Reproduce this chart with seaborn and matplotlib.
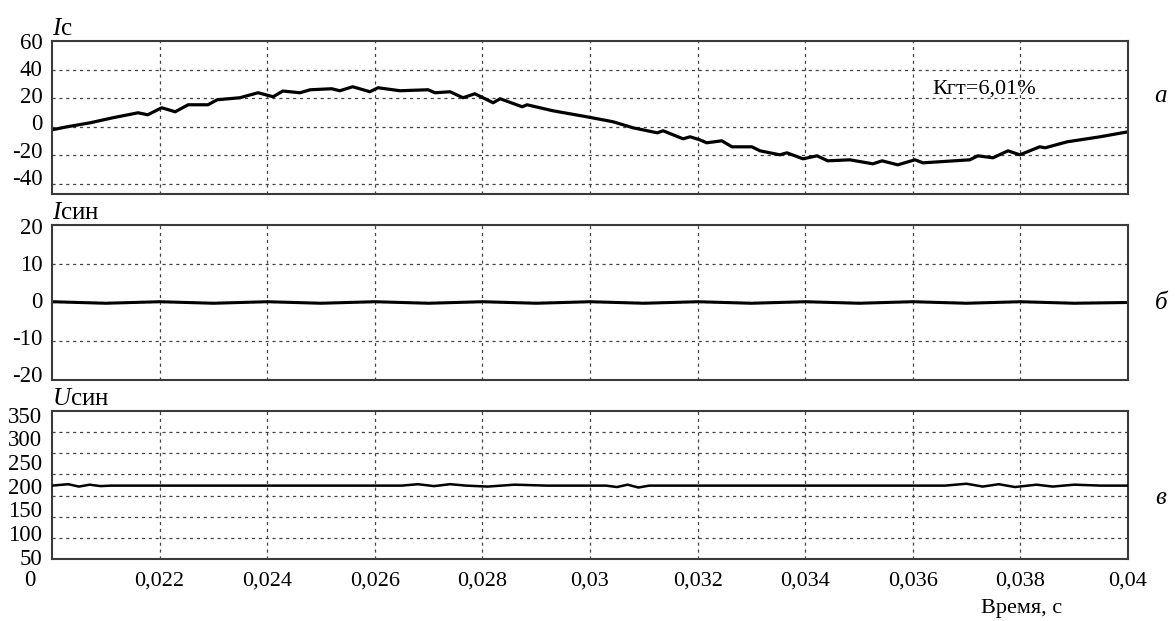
import matplotlib
matplotlib.use('Agg')
import matplotlib.pyplot as plt
import matplotlib.transforms as mtransforms
from matplotlib.ticker import FuncFormatter
import seaborn as sns

# phase current Ic, A
t_ic = [0.02000, 0.02028, 0.02071, 0.02113, 0.02160, 0.02178, 0.02204, 0.02229, 0.02253, 0.02290,
        0.02307, 0.02349, 0.02383, 0.02411, 0.02429, 0.02461, 0.02480, 0.02520, 0.02535, 0.02559,
        0.02591, 0.02606, 0.02647, 0.02699, 0.02712, 0.02740, 0.02764, 0.02786, 0.02820, 0.02833,
        0.02874, 0.02883, 0.02931, 0.02994, 0.03043, 0.03080, 0.03125, 0.03136, 0.03173, 0.03186,
        0.03204, 0.03217, 0.03245, 0.03264, 0.03301, 0.03316, 0.03353, 0.03366, 0.03396, 0.03422,
        0.03442, 0.03483, 0.03526, 0.03543, 0.03572, 0.03604, 0.03619, 0.03706, 0.03721, 0.03749,
        0.03777, 0.03799, 0.03836, 0.03846, 0.03887, 0.03948, 0.04000]
ic = [-2.1, 0.0, 2.8, 6.3, 9.8, 8.4, 13.3, 10.5, 15.4, 15.4,
      18.9, 20.3, 23.8, 21.0, 25.0, 23.8, 25.9, 26.6, 25.2, 28.0,
      24.5, 27.3, 25.2, 25.9, 23.8, 24.5, 20.3, 23.1, 16.8, 19.6,
      14.0, 15.4, 11.2, 7.0, 3.5, -0.7, -4.2, -2.8, -8.4, -7.0,
      -9.1, -11.2, -9.8, -14.0, -14.0, -16.8, -19.6, -18.2, -22.4, -20.3,
      -23.8, -23.1, -25.9, -23.8, -26.6, -23.1, -25.2, -23.1, -20.3, -21.7,
      -16.8, -19.6, -14.0, -14.7, -10.5, -7.0, -3.5]

# synchronous current, A
t_isin = [0.020, 0.021, 0.022, 0.023, 0.024, 0.025, 0.026, 0.027, 0.028, 0.029, 0.030,
          0.031, 0.032, 0.033, 0.034, 0.035, 0.036, 0.037, 0.038, 0.039, 0.040]
isin = [0.2, -0.2, 0.2, -0.2, 0.2, -0.2, 0.2, -0.2, 0.2, -0.2, 0.2,
        -0.2, 0.2, -0.2, 0.2, -0.2, 0.2, -0.2, 0.2, -0.2, 0.0]

# synchronous voltage, V
t_usin = [0.0200, 0.0203, 0.0205, 0.0207, 0.0209, 0.0211, 0.0265, 0.0268, 0.0271, 0.0274,
          0.0277, 0.0281, 0.0286, 0.0292, 0.0303, 0.0305, 0.0307, 0.0309, 0.0311, 0.0366,
          0.0370, 0.0373, 0.0376, 0.0379, 0.0383, 0.0386, 0.0390, 0.0395, 0.0400]
usin = [200, 203, 198, 202, 199, 200, 200, 203, 199, 203,
        200, 198, 202, 200, 200, 197, 202, 196, 200, 200,
        204, 198, 203, 197, 202, 198, 202, 200, 200]

x_ticks = [0.022, 0.024, 0.026, 0.028, 0.030, 0.032, 0.034, 0.036, 0.038, 0.040]

plt.rcParams['font.family'] = ['Liberation Serif', 'DejaVu Serif']
plt.rcParams['mathtext.fontset'] = 'custom'
plt.rcParams['mathtext.it'] = 'Liberation Serif:italic'
plt.rcParams['mathtext.rm'] = 'Liberation Serif'
plt.rcParams['axes.unicode_minus'] = False

fig = plt.figure(figsize=(11.75, 6.21), dpi=100)

# each panel: rect, grid ylim, grid ticks, label ylim, label ticks, title, letter
panels = [
    ([0.04426, 0.6876, 0.9157, 0.2464], (-47, 60), [-40, -20, 0, 20, 40],
     (-52.7, 59.8), [60, 40, 20, 0, -20, -40], r'$I$с', 'a', 0.8454),
    ([0.04426, 0.3881, 0.9157, 0.2496], (-20, 20), [-10, 0, 10],
     (-21.6, 20.3), [20, 10, 0, -10, -20], r'$I$син', 'б', 0.512),
    ([0.04426, 0.0998, 0.9157, 0.2383], (0, 350), [50, 100, 150, 200, 250, 300],
     (44.9, 357.6), [350, 300, 250, 200, 150, 100, 50], r'$U$син', 'в', 0.198),
]

comma = FuncFormatter(lambda v, p: ('%g' % v).replace('.', ','))
axes = []
for i, (rect, glim, gticks, llim, lticks, title, letter, ly) in enumerate(panels):
    ax = fig.add_axes(rect)
    ax.set_xlim(0.020, 0.040)
    ax.set_ylim(*glim)
    ax.set_yticks(gticks)
    ax.set_xticks(x_ticks)
    ax.grid(True, color='#444444', linestyle=(0, (2.5, 3)), linewidth=0.9)
    ax.tick_params(axis='y', length=0, labelleft=False)
    ax.tick_params(axis='x', length=0, labelsize=16, pad=9, labelbottom=(i == 2))
    ax.xaxis.set_major_formatter(comma)
    for s in ax.spines.values():
        s.set_color('#3a3a3a')
        s.set_linewidth(1.5)
    # labels on a slightly different scale, as in the source oscillogram
    lab = ax.twinx()
    lab.set_ylim(*llim)
    lab.set_yticks(lticks)
    lab.yaxis.set_ticks_position('left')
    lab.tick_params(axis='y', length=0, labelsize=16.5, pad=7)
    for s in lab.spines.values():
        s.set_visible(False)
    ax.annotate(title, xy=(0, 1), xycoords='axes fraction', xytext=(0, 4),
                textcoords='offset points', ha='left', va='baseline', fontsize=18)
    fig.text(0.988, ly, letter, ha='center', va='center', fontsize=18, style='italic')
    axes.append((ax, lab))

ax1 = axes[0][0]
sns.lineplot(x=t_ic, y=ic, ax=ax1, color='black', linewidth=2.3, estimator=None)
ax1.text(0.03636, 26.6, 'Кгт=6,01%', ha='left', va='center', fontsize=16)

ax2 = axes[1][0]
sns.lineplot(x=t_isin, y=isin, ax=ax2, color='black', linewidth=2.2, estimator=None)

ax3, lab3 = axes[2]
sns.lineplot(x=t_usin, y=usin, ax=lab3, color='black', linewidth=1.8, estimator=None)
lab3.set_xlim(0.020, 0.040)
trans = mtransforms.blended_transform_factory(lab3.transAxes, lab3.transData)
lab3.text(-0.0158, 0, '0', transform=trans, ha='right', va='center', fontsize=16.5, clip_on=False)
ax3.set_xlabel('Время, с', fontsize=16)
ax3.xaxis.set_label_coords(0.9015, -0.272)

for ax, lab in axes:
    ax.set_ylabel('')
    lab.set_ylabel('')

fig.savefig('out.png', dpi=100)
